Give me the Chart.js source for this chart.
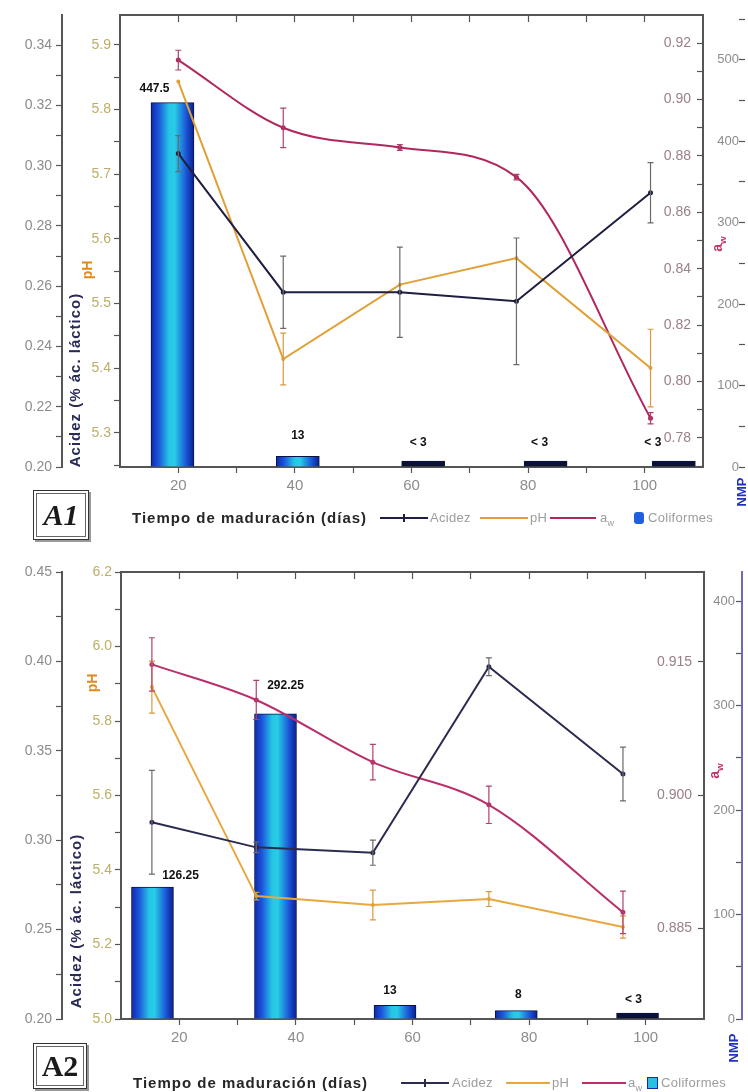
<!DOCTYPE html>
<html lang="es">
<head>
<meta charset="utf-8">
<title>Acidez, pH, aw y coliformes durante la maduración</title>
<script src="https://cdn.jsdelivr.net/npm/chart.js@4.4.1/dist/chart.umd.min.js"></script>
<style>
  html, body { margin: 0; padding: 0; background: #ffffff; }
  body { position: relative; width: 748px; height: 1092px; overflow: hidden;
         font-family: "Liberation Sans", Arial, sans-serif; }
  canvas { position: absolute; left: 0; }
  #grafA1 { top: 0; }
  #grafA2 { top: 550px; }
  .txt { position: absolute; white-space: nowrap; line-height: 1; }
  .rot { position: absolute; white-space: nowrap; line-height: 1; font-weight: bold;
         transform: translate(-50%, -50%) rotate(-90deg); }
  .titx { font-size: 15px; font-weight: bold; color: #262626; letter-spacing: 1px; }
  .ley { font-size: 13px; color: #9c9c9c; letter-spacing: 0.3px; }
  .ley sub, .rot sub { font-size: 70%; }
  .lin { position: absolute; height: 2px; }
  .caja { position: absolute; border: 1px solid #333;
          box-shadow: inset 0 0 0 2px #fff, inset 0 0 0 3px #666, 2px 2px 0 #999;
          font-family: "Liberation Serif", "Times New Roman", serif; font-weight: bold;
          font-size: 30px; color: #1a1a1a;
          display: flex; align-items: center; justify-content: center; }
  .acid { font-size: 15px; letter-spacing: 1px; color: #2a2a55; }
</style>
</head>
<body>
<canvas id="grafA1" width="748" height="540"></canvas>
<canvas id="grafA2" width="748" height="542"></canvas>

<!-- A1: titulos de ejes y leyenda -->
<div class="rot acid" style="left:74px;top:380px">Acidez (% ác. láctico)</div>
<div class="rot" style="left:87px;top:270px;font-size:14px;color:#e08a1a">pH</div>
<div class="rot" style="left:719px;top:244px;font-size:14px;color:#c0306a">a<sub>w</sub></div>
<div class="rot" style="left:741px;top:492px;font-size:13px;color:#2233bb">NMP</div>
<div class="caja" style="left:33px;top:490px;width:54px;height:48px;font-style:italic">A1</div>
<div class="txt titx" style="left:132px;top:510px">Tiempo de maduración (días)</div>
<span class="lin" style="left:380px;top:517px;width:48px;background:#1e1e40"></span>
<span class="lin" style="left:403px;top:514px;width:2px;height:8px;background:#1e1e40"></span>
<div class="txt ley" style="left:430px;top:511px">Acidez</div>
<span class="lin" style="left:480px;top:517px;width:48px;background:#e0a035"></span>
<div class="txt ley" style="left:530px;top:511px">pH</div>
<span class="lin" style="left:550px;top:517px;width:46px;background:#b0285e"></span>
<div class="txt ley" style="left:600px;top:511px">a<sub>w</sub></div>
<span class="lin" style="left:634px;top:512px;width:10px;height:12px;border-radius:3px;background:#1f5fe0"></span>
<div class="txt ley" style="left:648px;top:511px">Coliformes</div>

<!-- A2: titulos de ejes y leyenda -->
<div class="rot acid" style="left:75px;top:921px">Acidez (% ác. láctico)</div>
<div class="rot" style="left:92px;top:683px;font-size:14px;color:#e08a1a">pH</div>
<div class="rot" style="left:716px;top:771px;font-size:14px;color:#c0306a">a<sub>w</sub></div>
<div class="rot" style="left:733px;top:1048px;font-size:13px;color:#2233bb">NMP</div>
<div class="caja" style="left:33px;top:1043px;width:52px;height:44px">A2</div>
<div class="txt titx" style="left:133px;top:1075px">Tiempo de maduración (días)</div>
<span class="lin" style="left:401px;top:1082px;width:48px;background:#2b2b50"></span>
<span class="lin" style="left:424px;top:1079px;width:2px;height:8px;background:#2b2b50"></span>
<div class="txt ley" style="left:452px;top:1076px">Acidez</div>
<span class="lin" style="left:506px;top:1082px;width:44px;background:#e8a840"></span>
<div class="txt ley" style="left:552px;top:1076px">pH</div>
<span class="lin" style="left:582px;top:1082px;width:44px;background:#b8306a"></span>
<div class="txt ley" style="left:628px;top:1076px">a<sub>w</sub></div>
<span class="lin" style="left:647px;top:1077px;width:9px;height:10px;background:#2ac0e0;border:1px solid #1030a0"></span>
<div class="txt ley" style="left:661px;top:1076px">Coliformes</div>

<script>
// marcas del eje x (días)
const diasTicks = [20, 40, 60, 80, 100];

// ---- A1 ----
const a1DiasMedida = [20, 38, 58, 78, 101];
const a1DiasBarra = [19, 40.5, 62, 83, 105];
const a1Acidez = [0.304, 0.258, 0.258, 0.255, 0.291];
const a1AcidezDE = [0.006, 0.012, 0.015, 0.021, 0.010];
const a1PH = [5.843, 5.414, 5.529, 5.570, 5.400];
const a1PHDE = [0, 0.04, 0, 0, 0.06];
const a1Aw = [0.914, 0.890, 0.883, 0.8725, 0.787];
const a1AwDE = [0.0035, 0.007, 0.001, 0.001, 0.002];
const a1Coliformes = [447.5, 13, 3, 3, 3];
const a1ColiformesTxt = ['447.5', '13', '< 3', '< 3', '< 3'];
const a1TicksAcidez = [0.20, 0.22, 0.24, 0.26, 0.28, 0.30, 0.32, 0.34];
const a1TicksPH = [5.3, 5.4, 5.5, 5.6, 5.7, 5.8, 5.9];
const a1TicksAw = [0.78, 0.80, 0.82, 0.84, 0.86, 0.88, 0.90, 0.92];
const a1TicksNMP = [0, 100, 200, 300, 400, 500];

// ---- A2 ----
const a2DiasMedida = [15.3, 33.2, 53.2, 73.1, 96.1];
const a2DiasBarra = [15.4, 36.5, 57, 77.8, 98.6];
const a2Acidez = [0.310, 0.296, 0.293, 0.397, 0.337];
const a2AcidezDE = [0.029, 0.003, 0.007, 0.005, 0.015];
const a2PH = [5.891, 5.330, 5.306, 5.322, 5.247];
const a2PHDE = [0.07, 0.01, 0.04, 0.02, 0.03];
const a2Aw = [0.9147, 0.9107, 0.9037, 0.8989, 0.8868];
const a2AwDE = [0.003, 0.0022, 0.002, 0.0021, 0.0024];
const a2Coliformes = [126.25, 292.25, 13, 8, 3];
const a2ColiformesTxt = ['126.25', '292.25', '13', '8', '< 3'];
const a2TicksAcidez = [0.20, 0.25, 0.30, 0.35, 0.40, 0.45];
const a2TicksPH = [5.0, 5.2, 5.4, 5.6, 5.8, 6.0, 6.2];
const a2TicksAw = [0.885, 0.900, 0.915];
const a2TicksNMP = [0, 100, 200, 300, 400];

Chart.defaults.font.family = '"Liberation Sans", Arial, sans-serif';

const puntos = (xs, ys) => xs.map((x, i) => ({ x: x, y: ys[i] }));

// marcas mayores con etiqueta y menores (a mitad de paso) sin etiqueta
function marcas(mayores, min, max, dec, menores) {
  return (eje) => {
    const lista = mayores.map(v => ({ value: v, etiqueta: v.toFixed(dec) }));
    if (menores) {
      const paso = mayores[1] - mayores[0];
      [mayores[0] - paso / 2, ...mayores.map(v => v + paso / 2)].forEach(v => {
        if (v > min + 1e-9 && v < max - 1e-9) lista.push({ value: v, etiqueta: '' });
      });
    }
    lista.sort((a, b) => a.value - b.value);
    eje.ticks = lista;
  };
}

function ejeY(pos, peso, ancho, min, max, mayores, dec, color, op) {
  op = op || {};
  return {
    type: 'linear', position: pos, weight: peso, min: min, max: max,
    afterBuildTicks: marcas(mayores, min, max, dec, op.menores !== false),
    afterFit: (e) => { e.width = ancho; },
    ticks: {
      color: color, font: { size: op.fuente || 14 }, padding: op.relleno ?? 3,
      mirror: !!op.espejo, autoSkip: false, callback: (v, i, t) => t[i].etiqueta
    },
    grid: { display: true, drawOnChartArea: false, tickLength: op.largo ?? 6, tickColor: '#555', tickWidth: 1.2 },
    border: { display: op.borde !== false, color: op.colorBorde || '#555', width: 2 }
  };
}

function ejeX(pos, alto, conEtiquetas) {
  return {
    type: 'linear', position: pos, min: 10, max: 110, offset: false,
    afterBuildTicks: marcas(diasTicks, 10, 110, 0, true),
    afterFit: (e) => { e.height = alto; },
    ticks: {
      display: conEtiquetas, color: '#8c8c8c', font: { size: 15 }, padding: 4,
      autoSkip: false, maxRotation: 0, callback: (v, i, t) => t[i].etiqueta
    },
    grid: { display: true, offset: false, drawOnChartArea: false, tickLength: conEtiquetas ? 6 : -7, tickColor: '#555', tickWidth: 1.2 },
    border: { display: true, color: '#555', width: 2 }
  };
}

// relleno degradado de las barras de coliformes
function rellenoBarra(ancho) {
  return (ctx) => {
    const chart = ctx.chart;
    const raw = ctx.raw;
    if (!raw || !chart.chartArea) return '#1c4fd4';
    if (raw.y <= 3) return '#0a1233';
    const cx = chart.scales.x.getPixelForValue(raw.x);
    const g = chart.ctx.createLinearGradient(cx - ancho / 2, 0, cx + ancho / 2, 0);
    g.addColorStop(0, '#0d2aa8');
    g.addColorStop(0.18, '#1d55dc');
    g.addColorStop(0.42, '#25c6e4');
    g.addColorStop(0.55, '#28cde6');
    g.addColorStop(0.82, '#1b55d8');
    g.addColorStop(1, '#0b1e8c');
    return g;
  };
}

// barras de error (desviación) con las escalas del gráfico
const barrasError = {
  id: 'barrasError',
  afterDatasetsDraw(chart) {
    const ctx = chart.ctx;
    chart.data.datasets.forEach((ds, i) => {
      if (!ds.errores) return;
      const meta = chart.getDatasetMeta(i);
      const ey = chart.scales[ds.yAxisID];
      ctx.save();
      ctx.strokeStyle = ds.colorError;
      ctx.lineWidth = 1.2;
      ds.data.forEach((p, j) => {
        const e = ds.errores[j];
        if (!e) return;
        const x = meta.data[j].x;
        const y1 = ey.getPixelForValue(p.y + e);
        const y2 = ey.getPixelForValue(p.y - e);
        ctx.beginPath();
        ctx.moveTo(x, y1); ctx.lineTo(x, y2);
        ctx.moveTo(x - 3, y1); ctx.lineTo(x + 3, y1);
        ctx.moveTo(x - 3, y2); ctx.lineTo(x + 3, y2);
        ctx.stroke();
      });
      ctx.restore();
    });
  }
};

// valores escritos sobre las barras
const etiquetasBarras = {
  id: 'etiquetasBarras',
  afterDatasetsDraw(chart, args, opts) {
    const ctx = chart.ctx;
    chart.data.datasets.forEach((ds, i) => {
      if (!ds.etiquetas) return;
      const meta = chart.getDatasetMeta(i);
      ctx.save();
      ctx.font = 'bold 12px "Liberation Sans", Arial, sans-serif';
      ctx.fillStyle = '#111';
      ctx.textAlign = 'center';
      ctx.textBaseline = 'middle';
      meta.data.forEach((b, j) => {
        ctx.fillText(ds.etiquetas[j], b.x + opts.dx[j], b.y - opts.dy[j]);
      });
      ctx.restore();
    });
  }
};

function panel(id, c) {
  return new Chart(document.getElementById(id), {
    type: 'bar',
    data: {
      datasets: [
        { type: 'line', label: 'Acidez', data: puntos(c.dias, c.acidez), yAxisID: 'yAcidez',
          borderColor: c.colAcidez, backgroundColor: c.colAcidez, borderWidth: 2, pointRadius: 1.5,
          tension: 0, errores: c.acidezDE, colorError: '#6a6a6a', order: 1 },
        { type: 'line', label: 'pH', data: puntos(c.dias, c.ph), yAxisID: 'yPH',
          borderColor: c.colPH, backgroundColor: c.colPH, borderWidth: 2, pointRadius: 1,
          tension: 0, errores: c.phDE, colorError: '#d89a40', order: 2 },
        { type: 'line', label: 'aw', data: puntos(c.dias, c.aw), yAxisID: 'yAw',
          borderColor: c.colAw, backgroundColor: c.colAw, borderWidth: 2, pointRadius: 1.5,
          cubicInterpolationMode: 'monotone', errores: c.awDE, colorError: '#b04070', order: 3 },
        { type: 'bar', label: 'Coliformes', data: puntos(c.diasBarra, c.coli), yAxisID: 'yNMP',
          barThickness: c.anchoBarra, minBarLength: 6, backgroundColor: rellenoBarra(c.anchoBarra),
          borderColor: '#08124a', borderWidth: 1, etiquetas: c.coliTxt, order: 10 }
      ]
    },
    options: {
      responsive: false, animation: false, devicePixelRatio: 1,
      layout: { padding: 0 },
      plugins: {
        legend: { display: false }, tooltip: { enabled: false },
        etiquetasBarras: { dx: c.dx, dy: c.dy }
      },
      scales: {
        x: ejeX('bottom', c.altoAbajo, true),
        x2: ejeX('top', c.altoArriba, false),
        yAcidez: ejeY('left', 2, 62, c.rAcidez[0], c.rAcidez[1], c.tAcidez, 2, '#8c8c8c', { relleno: 4 }),
        yPH: ejeY('left', 1, c.anchoPH, c.rPH[0], c.rPH[1], c.tPH, 1, '#bcae68'),
        yAw: ejeY('right', 1, c.anchoAw, c.rAw[0], c.rAw[1], c.tAw, c.decAw, '#9a8088',
          { espejo: true, relleno: -12, largo: -6, fuente: 14, menores: c.menoresAw }),
        yNMP: ejeY('right', 2, c.anchoNMP, 0, c.maxNMP, c.tNMP, 0, '#8c8c8c',
          { espejo: true, relleno: c.rellenoNMP, largo: -6, fuente: 13, borde: c.bordeNMP, colorBorde: '#6b6bb8' })
      }
    },
    plugins: [barrasError, etiquetasBarras]
  });
}

panel('grafA1', {
  dias: a1DiasMedida, diasBarra: a1DiasBarra,
  acidez: a1Acidez, acidezDE: a1AcidezDE, ph: a1PH, phDE: a1PHDE, aw: a1Aw, awDE: a1AwDE,
  coli: a1Coliformes, coliTxt: a1ColiformesTxt,
  tAcidez: a1TicksAcidez, tPH: a1TicksPH, tAw: a1TicksAw, tNMP: a1TicksNMP,
  rAcidez: [0.20, 0.35], rPH: [5.247, 5.946], rAw: [0.7697, 0.930], maxNMP: 555,
  decAw: 2, menoresAw: true, bordeNMP: false, rellenoNMP: -6,
  colAcidez: '#1e1e40', colPH: '#e0a035', colAw: '#b0285e',
  anchoBarra: 43, anchoPH: 58, anchoAw: 42, anchoNMP: 3, altoArriba: 15, altoAbajo: 73,
  dx: [-18, 0, -5, -6, -21], dy: [14, 21, 18, 18, 18]
});

panel('grafA2', {
  dias: a2DiasMedida, diasBarra: a2DiasBarra,
  acidez: a2Acidez, acidezDE: a2AcidezDE, ph: a2PH, phDE: a2PHDE, aw: a2Aw, awDE: a2AwDE,
  coli: a2Coliformes, coliTxt: a2ColiformesTxt,
  tAcidez: a2TicksAcidez, tPH: a2TicksPH, tAw: a2TicksAw, tNMP: a2TicksNMP,
  rAcidez: [0.20, 0.45], rPH: [5.0, 6.2], rAw: [0.8748, 0.9251], maxNMP: 428,
  decAw: 3, menoresAw: false, bordeNMP: true, rellenoNMP: -7,
  colAcidez: '#2b2b50', colPH: '#e8a840', colAw: '#b8306a',
  anchoBarra: 42, anchoPH: 59, anchoAw: 38, anchoNMP: 6, altoArriba: 22, altoAbajo: 73,
  dx: [28, 10, -5, 2, -4], dy: [11, 28, 15, 16, 13]
});
</script>
</body>
</html>
